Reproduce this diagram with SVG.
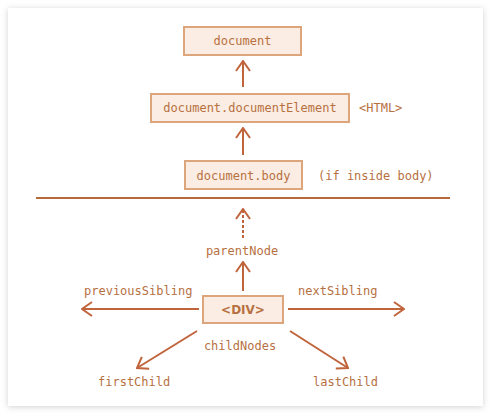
<svg xmlns="http://www.w3.org/2000/svg" width="491" height="415" viewBox="0 0 491 415">
<defs>
<filter id="sh" x="-5%" y="-5%" width="110%" height="110%">
<feDropShadow dx="0" dy="1" stdDeviation="3" flood-color="#000" flood-opacity="0.18"/>
</filter>
<marker id="ah" viewBox="0 0 12 16" refX="11" refY="8" markerWidth="12" markerHeight="16" markerUnits="userSpaceOnUse" orient="auto">
<path d="M1,1 L11,8 L1,15" fill="none" stroke="#c0643c" stroke-width="2"/>
</marker>
</defs>
<style>
.box{fill:#fbede3;stroke:#dca57c;stroke-width:2}
.t{font-family:"DejaVu Sans Mono","Liberation Mono",monospace;font-size:12px;fill:#b7703f}
.c{text-anchor:middle}
.ln{stroke:#c0643c;stroke-width:2;fill:none}
</style>
<rect x="0" y="0" width="491" height="415" fill="#ffffff"/>
<rect x="8" y="8" width="475" height="398" fill="#ffffff" filter="url(#sh)"/>
<g id="connectors">
<line class="ln" x1="243" y1="87" x2="243" y2="61" marker-end="url(#ah)"/>
<line class="ln" x1="243" y1="155" x2="243" y2="128" marker-end="url(#ah)"/>
<line x1="36" y1="198" x2="450" y2="198" stroke="#b8693a" stroke-width="2"/>
<line class="ln" x1="243" y1="238" x2="243" y2="209" stroke-dasharray="3,2" marker-end="url(#ah)"/>
<line class="ln" x1="243" y1="291" x2="243" y2="262" marker-end="url(#ah)"/>
<line class="ln" x1="199" y1="309" x2="82" y2="309" marker-end="url(#ah)"/>
<line class="ln" x1="288" y1="309" x2="404" y2="309" marker-end="url(#ah)"/>
<line class="ln" x1="197" y1="331" x2="137" y2="368" marker-end="url(#ah)"/>
<line class="ln" x1="290" y1="331" x2="348" y2="368" marker-end="url(#ah)"/>
</g>
<g id="document">
<rect class="box" x="184" y="27" width="117" height="28"/>
<text class="t c" x="242.5" y="45">document</text>
</g>
<g id="documentElement">
<rect class="box" x="151" y="94" width="198" height="28"/>
<text class="t c" x="250" y="112">document.documentElement</text>
<text class="t" x="359" y="112">&lt;HTML&gt;</text>
</g>
<g id="body">
<rect class="box" x="185" y="161" width="117" height="28"/>
<text class="t c" x="243.5" y="180">document.body</text>
<text class="t" x="318" y="180">(if inside body)</text>
</g>
<g id="parentNode">
<text class="t c" x="242" y="255">parentNode</text>
</g>
<g id="div">
<rect class="box" x="203" y="296" width="80" height="27"/>
<text class="t c" x="243" y="314" font-weight="bold" style="font-family:'DejaVu Sans','Liberation Sans',sans-serif">&lt;DIV&gt;</text>
</g>
<g id="previousSibling"><text class="t" x="84" y="295">previousSibling</text></g>
<g id="nextSibling"><text class="t" x="298" y="295">nextSibling</text></g>
<g id="childNodes"><text class="t c" x="240" y="350">childNodes</text></g>
<g id="firstChild"><text class="t" x="98" y="386">firstChild</text></g>
<g id="lastChild"><text class="t" x="313" y="386">lastChild</text></g>
</svg>
